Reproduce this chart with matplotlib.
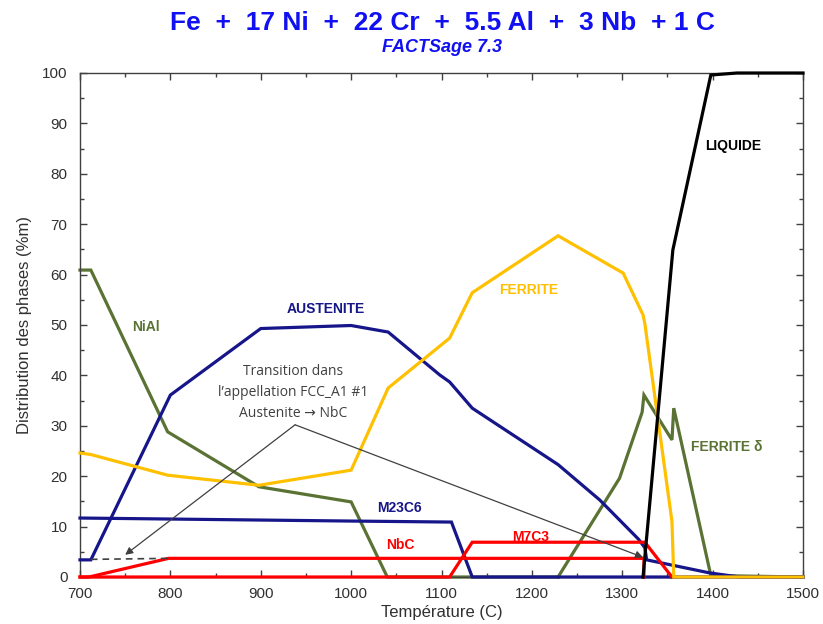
import matplotlib
matplotlib.use("Agg")
import matplotlib.pyplot as plt
from matplotlib.ticker import MultipleLocator

# ---------------- data ----------------
austenite_T = [700, 712, 800, 900, 1000, 1041, 1098, 1109, 1134, 1229, 1275, 1318, 1325, 1327, 1397, 1430, 1500]
austenite = [3.4, 3.4, 36.1, 49.3, 49.9, 48.6, 40.1, 38.7, 33.5, 22.3, 15.3, 7.5, 5.8, 3.4, 0.8, 0, 0]

m23c6_T = [700, 1000, 1111, 1134, 1500]
m23c6 = [11.7, 11.1, 10.9, 0, 0]

nial_T = [700, 712, 797, 898, 1000, 1040, 1229]
nial = [60.9, 60.9, 28.8, 17.9, 14.9, 0, 0]

delta_T = [1229, 1297, 1322, 1324, 1355, 1357, 1398, 1500]
delta = [0, 19.6, 32.7, 36.1, 27.2, 33.5, 0.3, 0]

ferrite_T = [700, 712, 797, 898, 1000, 1041, 1109, 1134, 1229, 1301, 1323, 1325, 1355, 1357, 1500]
ferrite = [24.6, 24.3, 20.2, 18.2, 21.2, 37.5, 47.4, 56.4, 67.7, 60.3, 52.0, 50.3, 11.0, 0, 0]

nbc_T = [700, 710, 798, 1324, 1324]
nbc = [0, 0, 3.7, 3.7, 0]

m7c3_T = [700, 1109, 1134, 1325, 1355]
m7c3 = [0, 0, 6.9, 6.9, 0]

liquid_T = [1323, 1356, 1398, 1427, 1500]
liquid = [0, 64.9, 99.6, 100, 100]

dashed_T = [712, 800]
dashed = [3.5, 3.7]

x_ticks = [700, 800, 900, 1000, 1100, 1200, 1300, 1400, 1500]
y_ticks = [0, 10, 20, 30, 40, 50, 60, 70, 80, 90, 100]

# ---------------- style ----------------
NAVY = "#16168a"
OLIVE = "#5a7233"
YELLOW = "#FFC000"
RED = "#FF0000"
BLACK = "#000000"
GRAY = "#404040"
LW = 2.3

plt.rcParams["font.family"] = ["Liberation Sans", "DejaVu Sans"]

fig = plt.figure(figsize=(8.23, 6.24), dpi=100)
ax = fig.add_axes([80 / 823, 47 / 624, 723 / 823, 504 / 624])

kw = dict(lw=LW, clip_on=False, solid_joinstyle="miter")
ax.plot(nial_T, nial, color=OLIVE, zorder=2, **kw)
ax.plot(delta_T, delta, color=OLIVE, zorder=2, **kw)
ax.plot(austenite_T, austenite, color=NAVY, zorder=3, **kw)
ax.plot(m23c6_T, m23c6, color=NAVY, zorder=3, **kw)
ax.plot(m7c3_T, m7c3, color=RED, zorder=4, **kw)
ax.plot(nbc_T, nbc, color=RED, zorder=4, **kw)
ax.plot(ferrite_T, ferrite, color=YELLOW, zorder=5, **kw)
ax.plot(liquid_T, liquid, color=BLACK, zorder=6, **kw)
ax.plot(dashed_T, dashed, color=GRAY, lw=1.2, ls=(0, (4, 3)), zorder=4)

ax.set_xlim(700, 1500)
ax.set_ylim(0, 100)
ax.set_xticks(x_ticks)
ax.set_yticks(y_ticks)
ax.xaxis.set_minor_locator(MultipleLocator(50))
ax.yaxis.set_minor_locator(MultipleLocator(5))
ax.tick_params(which="both", direction="in", top=True, right=True, colors=GRAY,
               labelcolor="#303030", labelsize=11)
ax.tick_params(which="major", length=5, width=1)
ax.tick_params(which="minor", length=3, width=1)
ax.tick_params(axis="x", pad=7)
ax.tick_params(axis="y", pad=9)
for s in ax.spines.values():
    s.set_color(GRAY)
    s.set_linewidth(1)

ax.set_xlabel("Température (C)", fontsize=12, color="#303030", labelpad=3)
ax.set_ylabel("Distribution des phases (%m)", fontsize=12, color="#303030", labelpad=7)

# phase labels
lab = dict(fontsize=10, fontweight="bold", ha="center", va="center")
ax.text(972, 53.2, "AUSTENITE", color=NAVY, **lab)
ax.text(773, 49.6, "NiAl", color=OLIVE, **lab)
ax.text(1197, 57.0, "FERRITE", color=YELLOW, **lab)
ax.text(1423, 85.5, "LIQUIDE", color=BLACK, **lab)
ax.text(1416, 25.8, "FERRITE δ", color=OLIVE, **lab)
ax.text(1053, 13.7, "M23C6", color=NAVY, **lab)
ax.text(1054, 6.3, "NbC", color=RED, **lab)
ax.text(1199, 7.9, "M7C3", color=RED, **lab)

# annotation
ax.text(936, 36.6, "Transition dans\nl\u2019appellation FCC_A1 #1\nAustenite \u2192 NbC",
        fontsize=10, color=GRAY, ha="center", va="center", linespacing=1.55,
        family=["Open Sans", "DejaVu Sans"])
arrow = dict(arrowstyle="-|>", color=GRAY, lw=0.9, mutation_scale=11, shrinkA=0, shrinkB=0)
ax.annotate("", xy=(750, 4.4), xytext=(938, 30.2), arrowprops=arrow, zorder=7)
ax.annotate("", xy=(1323, 3.9), xytext=(938, 30.2), arrowprops=arrow, zorder=7)

# titles
fig.text(442 / 823, 1 - 23 / 624, "Fe  +  17 Ni  +  22 Cr  +  5.5 Al  +  3 Nb  + 1 C",
         fontsize=19, fontweight="bold", color="#1010F0", ha="center", va="center")
fig.text(442 / 823, 1 - 47 / 624, "FACTSage 7.3", fontsize=13, fontweight="bold",
         style="italic", color="#1010F0", ha="center", va="center")

fig.savefig("out.png", dpi=100)
